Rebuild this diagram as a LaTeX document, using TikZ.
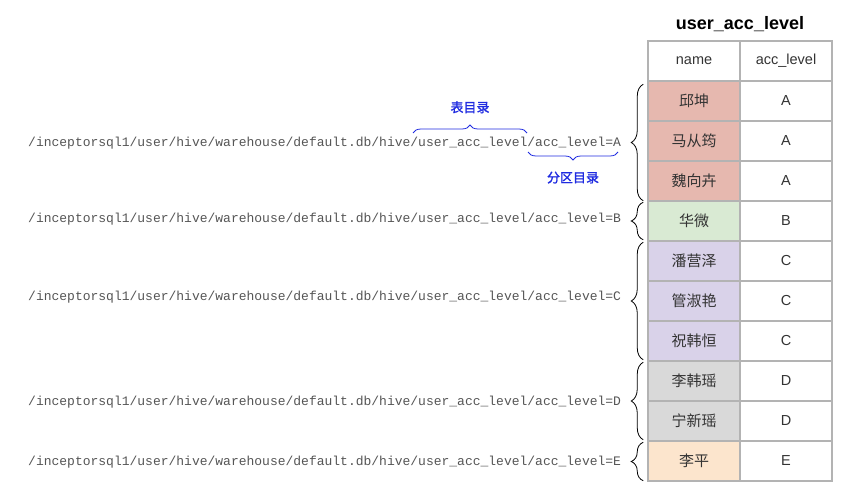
\documentclass[tikz,border=0pt]{standalone}
\usepackage{fontspec}
\setmainfont{Liberation Sans}
\setmonofont{Liberation Mono}
\newfontfamily\cjk{Noto Sans CJK SC}
\newfontfamily\cjkb[FakeBold=1.5]{Noto Sans CJK SC}
\usetikzlibrary{decorations.pathreplacing}

\definecolor{cellline}{HTML}{B3B3B3}
\definecolor{celltext}{HTML}{333333}
\definecolor{pathgray}{HTML}{555555}
\definecolor{lvA}{HTML}{E6B8AF}
\definecolor{lvB}{HTML}{D9EAD3}
\definecolor{lvC}{HTML}{D9D2E9}
\definecolor{lvD}{HTML}{D9D9D9}
\definecolor{lvE}{HTML}{FCE5CD}
\definecolor{dirblue}{HTML}{1F2BE0}

\tikzset{
  cell/.style={draw=cellline, line width=1.5pt, minimum width=92pt, minimum height=40pt, inner sep=0pt, text=celltext, font=\fontsize{14.5}{16}\selectfont},
  pathtext/.style={anchor=west, inner sep=0pt, text=pathgray, font=\ttfamily\fontsize{13}{15}\selectfont},
  rowbrace/.style={decorate, decoration={brace, amplitude=12pt}, line width=0.8pt},
  dirbrace/.style={decorate, decoration={brace, amplitude=8pt}, draw=dirblue, line width=0.8pt},
  dirlabel/.style={text=dirblue, font=\cjkb\fontsize{13}{15}\selectfont},
}

\begin{document}
\begin{tikzpicture}[x=1pt, y=-1pt]
  \useasboundingbox (0,0) rectangle (842,495);

  % table
  \draw (740,24) node[font=\bfseries\fontsize{18}{20}\selectfont] (title) {user\_acc\_level};
  \draw (694,61) node[cell] (hname) {name};
  \draw (786,61) node[cell] (hlevel) {acc\_level};
  \foreach \nm/\lv/\fc [count=\i] in {邱坤/A/lvA, 马从筠/A/lvA, 魏向卉/A/lvA, 华微/B/lvB,
      潘营泽/C/lvC, 管淑艳/C/lvC, 祝韩恒/C/lvC, 李韩瑶/D/lvD, 宁新瑶/D/lvD, 李平/E/lvE} {
    \draw (694,{61+40*\i}) node[cell, fill=\fc] (n\i) {\cjk\fontsize{15}{17}\selectfont \nm};
    \draw (786,{61+40*\i}) node[cell] (l\i) {\lv};
  }

  % paths
  \draw (28,143) node[pathtext] (pA) {/inceptorsql1/user/hive/warehouse/default.db/hive/user\_acc\_level/acc\_level=A};
  \draw (28,219) node[pathtext] (pB) {/inceptorsql1/user/hive/warehouse/default.db/hive/user\_acc\_level/acc\_level=B};
  \draw (28,297) node[pathtext] (pC) {/inceptorsql1/user/hive/warehouse/default.db/hive/user\_acc\_level/acc\_level=C};
  \draw (28,402) node[pathtext] (pD) {/inceptorsql1/user/hive/warehouse/default.db/hive/user\_acc\_level/acc\_level=D};
  \draw (28,462) node[pathtext] (pE) {/inceptorsql1/user/hive/warehouse/default.db/hive/user\_acc\_level/acc\_level=E};

  % braces
  \draw[rowbrace] ([xshift=-4pt,yshift=1pt]n3.south west) -- ([xshift=-4pt,yshift=-4pt]n1.north west);
  \draw[rowbrace] ([xshift=-4pt,yshift=2pt]n4.south west) -- ([xshift=-4pt,yshift=-2pt]n4.north west);
  \draw[rowbrace] ([xshift=-4pt,yshift=2pt]n7.south west) -- ([xshift=-4pt,yshift=-2pt]n5.north west);
  \draw[rowbrace] ([xshift=-4pt,yshift=2pt]n9.south west) -- ([xshift=-4pt,yshift=-2pt]n8.north west);
  \draw[rowbrace] ([xshift=-4pt,yshift=1pt]n10.south west) -- ([xshift=-4pt,yshift=-2pt]n10.north west);

  \draw[dirbrace] (413,133) -- (527,133) node[midway, above=16pt, dirlabel] (tbl) {表目录};
  \draw[dirbrace] (618,152) -- (528,152) node[midway, below=16pt, dirlabel] (part) {分区目录};
\end{tikzpicture}
\end{document}
